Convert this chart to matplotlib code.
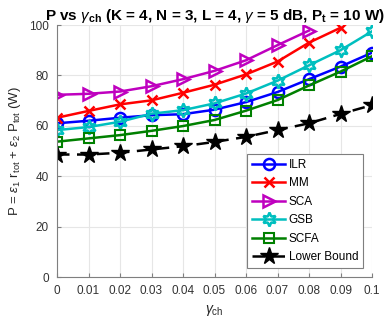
import matplotlib
matplotlib.use("Agg")
import matplotlib.pyplot as plt
import numpy as np

plt.rcParams['font.family'] = ['Liberation Sans', 'DejaVu Sans']
plt.rcParams['mathtext.fontset'] = 'custom'
plt.rcParams['mathtext.rm'] = 'Liberation Sans'
plt.rcParams['mathtext.it'] = 'Liberation Sans:italic'
plt.rcParams['mathtext.bf'] = 'Liberation Sans:bold'

gamma_ch = [0, 0.01, 0.02, 0.03, 0.04, 0.05, 0.06, 0.07, 0.08, 0.09, 0.1]
ilr = [61.0, 62.0, 63.2, 64.2, 64.6, 66.4, 69.4, 73.4, 78.5, 83.5, 89.0]
mm = [63.2, 65.9, 68.5, 70.1, 73.1, 76.3, 80.4, 85.5, 93.0, 98.9]
sca = [72.3, 72.7, 73.6, 75.7, 78.5, 81.8, 86.0, 92.0, 97.8]
gsb = [58.3, 59.5, 61.6, 64.8, 66.2, 68.9, 72.8, 77.9, 84.0, 90.0, 97.5]
scfa = [53.7, 55.0, 56.3, 58.0, 59.9, 62.3, 66.0, 70.2, 76.0, 81.5, 87.6]
lower = [48.6, 48.6, 49.3, 50.6, 51.9, 53.6, 55.6, 58.3, 61.0, 64.7, 68.2]

xticks = [0, 0.01, 0.02, 0.03, 0.04, 0.05, 0.06, 0.07, 0.08, 0.09, 0.1]
xticklabels = ['0', '0.01', '0.02', '0.03', '0.04', '0.05', '0.06', '0.07', '0.08', '0.09', '0.1']
yticks = [0, 20, 40, 60, 80, 100]

fig = plt.figure(figsize=(3.9, 3.24), dpi=100)
ax = fig.add_axes([57/390, 47/324, 315/390, 252/324])

lw = 1.8
ax.plot(gamma_ch[:len(ilr)], ilr, color='#0000ff', lw=lw, marker='o', ms=8,
        mfc='none', mew=1.8, label='ILR')
ax.plot(gamma_ch[:len(mm)], mm, color='#ff0000', lw=lw, marker='x', ms=7,
        mew=1.8, label='MM')
ax.plot(gamma_ch[:len(sca)], sca, color='#bf00bf', lw=lw, marker='>', ms=9,
        mfc='none', mew=1.8, label='SCA')
ax.plot(gamma_ch[:len(gsb)], gsb, color='#00bfbf', lw=lw, marker=(6, 1, 0), ms=10,
        mfc='none', mew=1.8, label='GSB')
ax.plot(gamma_ch[:len(scfa)], scfa, color='#008000', lw=lw, marker='s', ms=6.5,
        mfc='none', mew=1.5, label='SCFA')
ax.plot(gamma_ch[:len(lower)], lower, color='black', lw=lw, ls=(0, (5, 3)),
        marker='*', ms=13, mfc='black', label='Lower Bound')

ax.set_xlim(0, 0.1)
ax.set_ylim(0, 100)
ax.set_xticks(xticks)
ax.set_xticklabels(xticklabels)
ax.set_yticks(yticks)
ax.grid(True, color='#e6e6e6', lw=0.8)
ax.set_axisbelow(True)
for s in ['top', 'right']:
    ax.spines[s].set_visible(False)
for s in ['left', 'bottom']:
    ax.spines[s].set_color('#7f7f7f')
ax.tick_params(direction='in', length=3, color='#7f7f7f', labelsize=8.5,
               labelcolor='#333333', pad=6)

ax.set_xlabel(r'$\gamma_{\rm ch}$', fontsize=10, color='#262626', labelpad=4)
ax.set_ylabel(r'P = $\epsilon_1$ r$_{\rm tot}$ + $\epsilon_2$ P$_{\rm tot}$ (W)',
              fontsize=9.5, color='#262626', labelpad=4)
ax.set_title(r'P vs $\gamma_{\mathbf{ch}}$ (K = 4, N = 3, L = 4, $\gamma$ = 5 dB, P$_{\mathbf{t}}$ = 10 W)',
             fontsize=11, fontweight='bold', pad=3)

leg = ax.legend(loc='lower right', bbox_to_anchor=(0.971, 0.036), borderaxespad=0,
                fontsize=8.5, fancybox=False, framealpha=1, edgecolor='#7f7f7f',
                handlelength=2.8, labelspacing=0.55, borderpad=0.4, handletextpad=0.3)
leg.get_frame().set_linewidth(0.8)

fig.savefig('out.png', dpi=100)
